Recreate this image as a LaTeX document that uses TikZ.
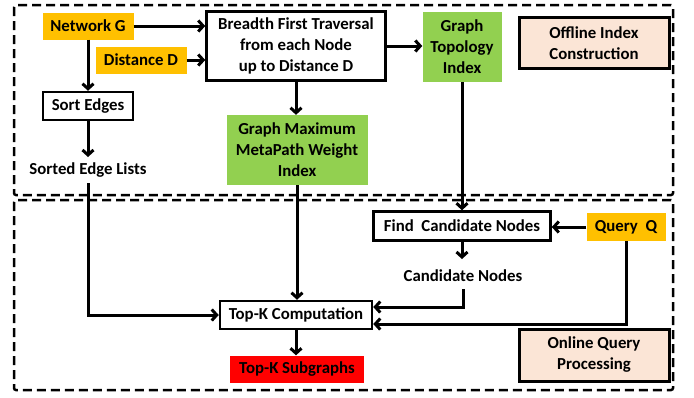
\documentclass[tikz,border=0pt]{standalone}
\usepackage{fontspec}
\setmainfont{Carlito}
\usetikzlibrary{arrows.meta}
\definecolor{orng}{HTML}{FFC000}
\definecolor{grn}{HTML}{92D050}
\definecolor{peach}{HTML}{FBE5D6}
\definecolor{redbox}{HTML}{FF0000}
\begin{document}
\begin{tikzpicture}[x=1pt,y=-1pt,
  every node/.style={font=\bfseries\fontsize{16.8}{21}\selectfont, align=center, inner sep=0pt},
  orangebox/.style={fill=orng},
  greenbox/.style={fill=grn},
  whitebox/.style={draw=black, line width=2.5pt, fill=white},
  peachbox/.style={draw=black, line width=3pt, fill=peach},
  redfill/.style={fill=redbox},
  region/.style={draw=black, dashed, dash pattern=on 9pt off 5pt, line width=2.5pt, rounded corners=2pt},
  arr/.style={draw=black, line width=3pt, -{Straight Barb[length=5pt,width=11pt]}},
]
\useasboundingbox (0,0) rectangle (694,397);
\draw[region] (14,5) rectangle (673,195);
\draw[region] (14,200) rectangle (673,390);

\node[orangebox, minimum width=91pt, minimum height=27pt] (net) at (88,26) {Network G};
\node[orangebox, minimum width=91pt, minimum height=27pt] (dist) at (141,60) {Distance D};
\node[whitebox, minimum width=179pt, minimum height=69pt] (bft) at (296,46) {Breadth First Traversal\\from each Node\\up to Distance D};
\node[greenbox, minimum width=79pt, minimum height=70pt] (gti) at (462,47) {Graph\\Topology\\Index};
\node[peachbox, minimum width=150pt, minimum height=51pt] (off) at (594,43) {Offline Index\\Construction};
\node[whitebox, minimum width=90pt, minimum height=28pt] (sort) at (88,106) {Sort Edges};
\node (sel) at (88,170) {Sorted Edge Lists};
\node[greenbox, minimum width=141pt, minimum height=70pt] (gmm) at (297,150) {Graph Maximum\\MetaPath Weight\\Index};
\node[whitebox, minimum width=177pt, minimum height=29pt] (fcn) at (462,226) {Find~ Candidate Nodes};
\node[orangebox, minimum width=79pt, minimum height=28pt] (qq) at (626,227) {Query~ Q};
\node (cn) at (463,276) {Candidate Nodes};
\node[whitebox, minimum width=152pt, minimum height=28pt] (topk) at (296,315) {Top-K Computation};
\node[redfill, minimum width=134pt, minimum height=27pt] (tks) at (297,369) {Top-K Subgraphs};
\node[peachbox, minimum width=150pt, minimum height=52pt] (onl) at (594,355) {Online Query\\Processing};

\draw[arr] (net.east) -- (bft.west |- net.east);
\draw[arr] (dist.east) -- (bft.west |- dist.east);
\draw[arr] (net.south) -- (sort.north);
\draw[arr] (sort.south) -- (88,157);
\draw[arr] (bft.south) -- (bft.south |- gmm.north);
\draw[arr] (bft.east) -- (gti.west |- bft.east);
\draw[arr] (gmm.south) -- (gmm.south |- topk.north);
\draw[arr] (gti.south) -- (gti.south |- fcn.north);
\draw[arr] (fcn.south) -- (462,259);
\draw[arr] (qq.west) -- (fcn.east |- qq.west);
\draw[arr] (88,183) -- (88,315) -- (topk.west);
\draw[arr] (463,289) -- (463,307) -- (topk.east |- 0,307);
\draw[arr] (qq.south) -- (626,324) -- (topk.east |- 0,324);
\draw[arr] (topk.south) -- (topk.south |- tks.north);
\end{tikzpicture}
\end{document}
